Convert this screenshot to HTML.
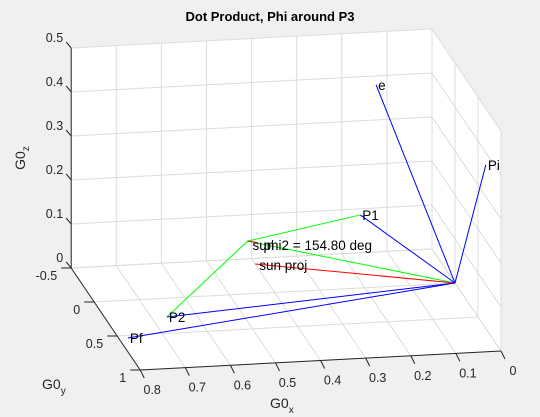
<!DOCTYPE html>
<html><head><meta charset="utf-8"><style>
body{margin:0;background:#f0f0f0;}
svg{display:block;font-family:"Liberation Sans",Arial,sans-serif;}
</style></head><body>
<svg id="chart" width="540" height="417" viewBox="0 0 540 417">
<rect x="0" y="0" width="540" height="417" fill="#f0f0f0"/>
<text x="270" y="21" font-size="13" font-weight="bold" text-anchor="middle" fill="#000">Dot Product, Phi around P3</text>
<g id="layer"></g>
<text transform="translate(25,158) rotate(-90)" font-size="14" fill="#262626" text-anchor="middle">G0<tspan font-size="10" dy="4">z</tspan></text>
<text x="42" y="389" font-size="14" fill="#262626">G0<tspan font-size="10" dy="5">y</tspan></text>
<text x="270" y="408" font-size="14" fill="#262626">G0<tspan font-size="10" dy="5">x</tspan></text>
</svg>
<script>
const xTicks=[0,0.1,0.2,0.3,0.4,0.5,0.6,0.7,0.8];
const yTicks=[-0.5,0,0.5,1];
const zTicks=[0,0.1,0.2,0.3,0.4,0.5];
const vecNames=["e","Pi","P1","P2","Pf"];
const vecX=[0.175,0.003,0.21,0.666,0.78];
const vecY=[0,0.7,0,0.267,0.537];
const vecZ=[0.46,0.377,0.166,0,0];
const sunNames=["sun phi2","sun proj"];
const sunX=[0.46,0.40];
const sunY=[0,-0.42];
const sunZ=[0.12,0];
const XMAX=0.8,YMIN=-0.5,YMAX=1,ZMAX=0.5;
function P(x,y,z){return [455-451*x+46*y, 283+23.75*x+68*y-440*z];}
const NS="http://www.w3.org/2000/svg";
const layer=document.getElementById('layer');
function el(tag,attrs){const e=document.createElementNS(NS,tag);for(const k in attrs)e.setAttribute(k,attrs[k]);layer.appendChild(e);return e;}
function line(a,b,stroke,w){return el('line',{x1:a[0],y1:a[1],x2:b[0],y2:b[1],stroke:stroke,'stroke-width':w});}
function poly(pts){return pts.map(p=>p.join(',')).join(' ');}
let w;
w=el('polygon',{points:poly([P(0,YMIN,0),P(XMAX,YMIN,0),P(XMAX,YMIN,ZMAX),P(0,YMIN,ZMAX)]),fill:'#fff'});


w=el('polygon',{points:poly([P(0,YMIN,0),P(0,YMAX,0),P(0,YMAX,ZMAX),P(0,YMIN,ZMAX)]),fill:'#fff'});


w=el('polygon',{points:poly([P(0,YMIN,0),P(XMAX,YMIN,0),P(XMAX,YMAX,0),P(0,YMAX,0)]),fill:'#fff'});


const gc='#dcdcdc';
xTicks.forEach(x=>{
 let g=line(P(x,YMIN,0),P(x,YMIN,ZMAX),gc,1);
 
 
 g=line(P(x,YMIN,0),P(x,YMAX,0),gc,1);
 
 
});
yTicks.forEach(y=>{
 let g=line(P(0,y,0),P(0,y,ZMAX),gc,1);
 
 
 g=line(P(0,y,0),P(XMAX,y,0),gc,1);
 
 
});
zTicks.forEach(z=>{
 let g=line(P(0,YMIN,z),P(XMAX,YMIN,z),gc,1);
 
 
 g=line(P(0,YMIN,z),P(0,YMAX,z),gc,1);
 
 
});
const ac='#262626';
let a=line(P(XMAX,YMIN,0),P(XMAX,YMIN,ZMAX),ac,1);


a=line(P(XMAX,YMIN,0),P(XMAX,YMAX,0),ac,1);


a=line(P(XMAX,YMAX,0),P(0,YMAX,0),ac,1);


function txt(s,x,y,anchor,size,fill){const t=el('text',{x:x,y:y,'text-anchor':anchor,'font-size':size,fill:fill});t.textContent=s;return t;}
zTicks.forEach(z=>{
 const p=P(XMAX,YMIN,z);
 const t=line(p,[p[0]-5,p[1]-6],ac,1);
 
 
 const l=txt(String(z),p[0]-8,p[1]-6,'end',12.5,ac);
 
 
});
yTicks.forEach(y=>{
 const p=P(XMAX,y,0);
 const t=line(p,[p[0]-10,p[1]],ac,1);
 
 
 const l=txt(String(y),p[0]-14,p[1]+12,'end',12.5,ac);
 
 
});
xTicks.forEach(x=>{
 const p=P(x,YMAX,0);
 const t=line(p,[p[0]+4,p[1]+8],ac,1);
 
 
 const l=txt(String(x),p[0]+12,p[1]+24,'middle',12.5,ac);
 
 
});
const O=P(0,0,0);
const gP1=P(vecX[2],vecY[2],vecZ[2]),gS=P(sunX[0],sunY[0],sunZ[0]),gP2=P(vecX[3],vecY[3],vecZ[3]);
let gl=el('polyline',{points:poly([gP1,gS,gP2]),fill:'none',stroke:'#00ff00','stroke-width':1});


gl=line(gS,O,'#00ff00',1);


const sp0=P(sunX[0],sunY[0],sunZ[0]);
let rl=line([sp0[0],sp0[1]],[sp0[0]+10,sp0[1]+1.5],'#ff0000',1);


const sp1=P(sunX[1],sunY[1],sunZ[1]);
rl=line(O,sp1,'#ff0000',1);


const LS=13.5;
vecNames.forEach((n,i)=>{
 const p=P(vecX[i],vecY[i],vecZ[i]);
 const l=line(O,p,'#0000ff',1);
 
 
 const t=txt(n,p[0]+2,p[1]+5,'start',LS,'#000');
 
 
});
let st=txt('sun',sp0[0]+5,sp0[1]+9,'start',LS,'#000');


st=txt('phi2 = 154.80 deg',sp0[0]+16,sp0[1]+9,'start',LS,'#000');


st=txt('sun proj',sp1[0]+4,sp1[1]+6,'start',LS,'#000');


</script>
</body></html>
